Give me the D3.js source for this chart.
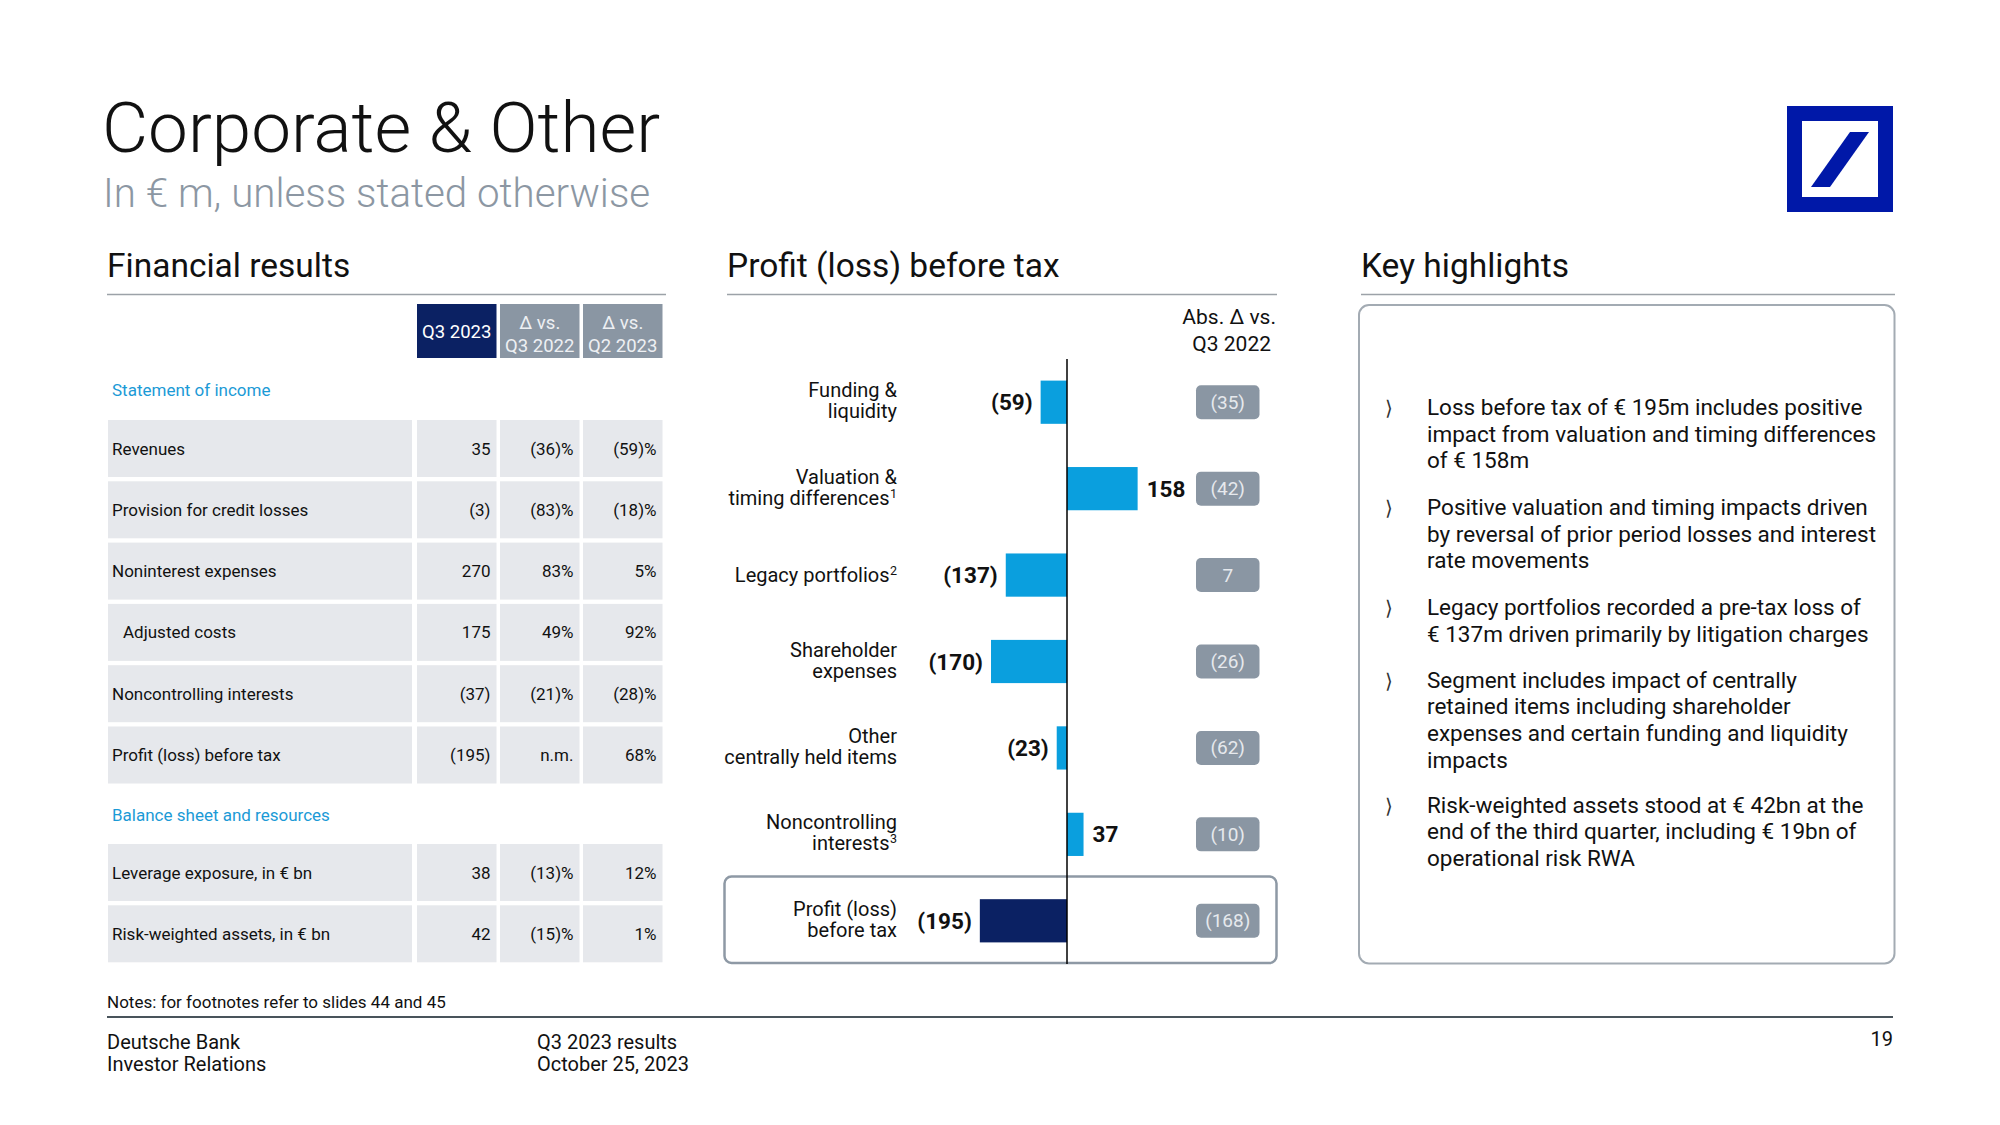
<!DOCTYPE html>
<html>
<head>
<meta charset="utf-8">
<script src="https://cdn.jsdelivr.net/npm/d3@7"></script>
<style>
  html, body { margin: 0; padding: 0; background: #ffffff; }
  svg { display: block; font-family: Roboto, "Noto Sans", sans-serif; }
</style>
</head>
<body>
<svg id="chart" width="2000" height="1125"></svg>
<script>
// ---------------- DATA ----------------
const tableHeaders = [["Q3 2023"], ["Δ vs.", "Q3 2022"], ["Δ vs.", "Q2 2023"]];
const incomeLabels = ["Revenues", "Provision for credit losses", "Noninterest expenses", "Adjusted costs", "Noncontrolling interests", "Profit (loss) before tax"];
const incomeQ3_2023 = ["35", "(3)", "270", "175", "(37)", "(195)"];
const incomeVsQ3_2022 = ["(36)%", "(83)%", "83%", "49%", "(21)%", "n.m."];
const incomeVsQ2_2023 = ["(59)%", "(18)%", "5%", "92%", "(28)%", "68%"];
const incomeIndent = [false, false, false, true, false, false];
const balanceLabels = ["Leverage exposure, in € bn", "Risk-weighted assets, in € bn"];
const balanceQ3_2023 = ["38", "42"];
const balanceVsQ3_2022 = ["(13)%", "(15)%"];
const balanceVsQ2_2023 = ["12%", "1%"];

const categories = ["Funding & liquidity", "Valuation & timing differences", "Legacy portfolios", "Shareholder expenses", "Other centrally held items", "Noncontrolling interests", "Profit (loss) before tax"];
const categoryLines = [["Funding &", "liquidity"], ["Valuation &", "timing differences"], ["Legacy portfolios"], ["Shareholder", "expenses"], ["Other", "centrally held items"], ["Noncontrolling", "interests"], ["Profit (loss)", "before tax"]];
const categoryFootnotes = ["", "1", "2", "", "", "3", ""];
const pbtValues = [-59, 158, -137, -170, -23, 37, -195];
const absDeltaLabels = ["(35)", "(42)", "7", "(26)", "(62)", "(10)", "(168)"];

const highlights = [
  ["Loss before tax of € 195m includes positive", "impact from valuation and timing differences", "of € 158m"],
  ["Positive valuation and timing impacts driven", "by reversal of prior period losses and interest", "rate movements"],
  ["Legacy portfolios recorded a pre-tax loss of", "€ 137m driven primarily by litigation charges"],
  ["Segment includes impact of centrally", "retained items including shareholder", "expenses and certain funding and liquidity", "impacts"],
  ["Risk-weighted assets stood at € 42bn at the", "end of the third quarter, including € 19bn of", "operational risk RWA"]
];

// ---------------- STYLE ----------------
const NAVY = "#0b2163";
const HEAD_GRAY = "#8a96a3";
const ROW_FILL = "#e6e8ec";
const LIGHT_BLUE_TXT = "#1b9ad6";
const BAR_BLUE = "#0a9fde";
const TEXT = "#111111";
const RULE = "#9ca2a8";

const svg = d3.select("#chart");

// ---------------- HEADER ----------------
svg.append("text").attr("x", 102).attr("y", 152)
  .attr("font-size", 71).attr("font-weight", 300).attr("fill", TEXT)
  .text("Corporate & Other");
svg.append("text").attr("x", 103).attr("y", 207)
  .attr("font-size", 40.3).attr("font-weight", 300).attr("fill", "#8c97a3")
  .text("In € m, unless stated otherwise");

// logo
const logo = svg.append("g").attr("transform", "translate(1787,106)");
logo.append("rect").attr("width", 106).attr("height", 106).attr("fill", "#0018a8");
logo.append("rect").attr("x", 15).attr("y", 15).attr("width", 76).attr("height", 76).attr("fill", "#ffffff");
logo.append("polygon").attr("points", "63,26 82,26 43,81 24,81").attr("fill", "#0018a8");

// section headings + rules
const sections = [
  {t: "Financial results", x: 107, x2: 666},
  {t: "Profit (loss) before tax", x: 727, x2: 1277},
  {t: "Key highlights", x: 1361, x2: 1895}
];
sections.forEach(s => {
  svg.append("text").attr("x", s.x).attr("y", 277).attr("font-size", 33.5)
    .attr("font-weight", 400).attr("fill", TEXT).text(s.t);
  svg.append("line").attr("x1", s.x).attr("x2", s.x2).attr("y1", 294.5).attr("y2", 294.5)
    .attr("stroke", RULE).attr("stroke-width", 1.5);
});

// ---------------- TABLE ----------------
const colX = [417, 500, 583];
const colW = 79.5;
const labelX0 = 108, labelX1 = 412;
const tbl = svg.append("g");

tableHeaders.forEach((h, i) => {
  tbl.append("rect").attr("x", colX[i]).attr("y", 304).attr("width", colW).attr("height", 54)
    .attr("fill", i === 0 ? NAVY : HEAD_GRAY);
  const t = tbl.append("text").attr("text-anchor", "middle").attr("font-size", 18.5)
    .attr("fill", i === 0 ? "#ffffff" : "#eef0f3");
  if (h.length === 1) {
    t.append("tspan").attr("x", colX[i] + colW / 2).attr("y", 338).text(h[0]);
  } else {
    t.append("tspan").attr("x", colX[i] + colW / 2).attr("y", 329).text(h[0]);
    t.append("tspan").attr("x", colX[i] + colW / 2).attr("y", 352).text(h[1]);
  }
});

function sectionLabel(txt, y) {
  tbl.append("text").attr("x", 112).attr("y", y).attr("font-size", 17)
    .attr("fill", LIGHT_BLUE_TXT).text(txt);
}
function drawRows(labels, c1, c2, c3, indent, yStart) {
  const rowH = 57, pitch = 61.3;
  labels.forEach((lab, i) => {
    const y = yStart + i * pitch;
    tbl.append("rect").attr("x", labelX0).attr("y", y).attr("width", labelX1 - labelX0).attr("height", rowH).attr("fill", ROW_FILL);
    colX.forEach(cx => tbl.append("rect").attr("x", cx).attr("y", y).attr("width", colW).attr("height", rowH).attr("fill", ROW_FILL));
    const ty = y + rowH / 2 + 6;
    tbl.append("text").attr("x", indent[i] ? 123 : 112).attr("y", ty).attr("font-size", 17).attr("fill", TEXT).text(lab);
    [c1[i], c2[i], c3[i]].forEach((v, j) => {
      tbl.append("text").attr("x", colX[j] + colW - 6).attr("y", ty).attr("text-anchor", "end")
        .attr("font-size", 17).attr("fill", TEXT).text(v);
    });
  });
}
sectionLabel("Statement of income", 396);
drawRows(incomeLabels, incomeQ3_2023, incomeVsQ3_2022, incomeVsQ2_2023, incomeIndent, 420);
sectionLabel("Balance sheet and resources", 821);
drawRows(balanceLabels, balanceQ3_2023, balanceVsQ3_2022, balanceVsQ2_2023, [false, false], 844);

// ---------------- BAR CHART ----------------
const x = d3.scaleLinear().domain([-200, 200]).range([1067 - 89.4, 1067 + 89.4]);
const y = d3.scaleBand().domain(categories).range([359, 964]).paddingInner(0.5).paddingOuter(0.25);
const chart = svg.append("g");

// highlighted box for total
chart.append("rect").attr("x", 724.5).attr("y", 876.5).attr("width", 552).attr("height", 86.5)
  .attr("rx", 7).attr("fill", "none").attr("stroke", "#8e99a5").attr("stroke-width", 2.5);

chart.selectAll("rect.bar").data(pbtValues).enter().append("rect").attr("class", "bar")
  .attr("x", d => x(Math.min(0, d)))
  .attr("width", d => Math.abs(x(d) - x(0)))
  .attr("y", (d, i) => y(categories[i]))
  .attr("height", y.bandwidth())
  .attr("fill", (d, i) => i === categories.length - 1 ? NAVY : BAR_BLUE);

// zero axis
chart.append("line").attr("x1", x(0)).attr("x2", x(0)).attr("y1", 359).attr("y2", 964)
  .attr("stroke", "#000").attr("stroke-width", 1.5);

// value labels
chart.selectAll("text.val").data(pbtValues).enter().append("text").attr("class", "val")
  .attr("x", d => d < 0 ? x(d) - 8 : x(d) + 9)
  .attr("y", (d, i) => y(categories[i]) + y.bandwidth() / 2 + 8)
  .attr("text-anchor", d => d < 0 ? "end" : "start")
  .attr("font-size", 22.5).attr("font-weight", 700).attr("fill", TEXT)
  .text(d => d < 0 ? "(" + Math.abs(d) + ")" : String(d));

// category labels
categories.forEach((c, i) => {
  const cy = y(c) + y.bandwidth() / 2;
  const lines = categoryLines[i];
  const hasFn = !!categoryFootnotes[i];
  const t = chart.append("text").attr("text-anchor", "end").attr("font-size", 20).attr("fill", TEXT);
  lines.forEach((ln, k) => {
    const baseY = lines.length === 1 ? cy + 7 : cy - 5 + k * 21;
    const isLast = k === lines.length - 1;
    t.append("tspan").attr("x", (isLast && hasFn) ? 897 - 7.5 : 897).attr("y", baseY).text(ln);
    if (isLast && hasFn) {
      chart.append("text").attr("x", 897).attr("y", baseY - 7).attr("text-anchor", "end")
        .attr("font-size", 12.5).attr("fill", TEXT).text(categoryFootnotes[i]);
    }
  });
});

// Abs delta header
chart.append("text").attr("x", 1276).attr("y", 324).attr("text-anchor", "end")
  .attr("font-size", 21).attr("fill", TEXT).text("Abs. Δ vs.");
chart.append("text").attr("x", 1271).attr("y", 351).attr("text-anchor", "end")
  .attr("font-size", 21).attr("fill", TEXT).text("Q3 2022");

// Abs delta pills
categories.forEach((c, i) => {
  const cy = y(c) + y.bandwidth() / 2;
  chart.append("rect").attr("x", 1196).attr("y", cy - 17).attr("width", 63.5).attr("height", 34)
    .attr("rx", 5).attr("fill", HEAD_GRAY);
  chart.append("text").attr("x", 1227.75).attr("y", cy + 6.5).attr("text-anchor", "middle")
    .attr("font-size", 19).attr("fill", "#e6e9ed").text(absDeltaLabels[i]);
});

// ---------------- KEY HIGHLIGHTS ----------------
svg.append("rect").attr("x", 1359).attr("y", 305).attr("width", 535.5).attr("height", 658.5)
  .attr("rx", 10).attr("fill", "none").attr("stroke", "#a3abb3").attr("stroke-width", 2);
const paraStarts = [415, 515, 615, 687.5, 812.5];
const lineH = 26.7;
highlights.forEach((p, i) => {
  svg.append("text").attr("x", 1385).attr("y", paraStarts[i]).attr("font-size", 20)
    .attr("font-weight", 300).attr("fill", "#333").attr("font-family", "DejaVu Sans").text("⟩");
  const t = svg.append("text").attr("font-size", 22.5).attr("fill", TEXT);
  p.forEach((ln, k) => t.append("tspan").attr("x", 1427).attr("y", paraStarts[i] + k * lineH).text(ln));
});

// ---------------- FOOTER ----------------
svg.append("text").attr("x", 107).attr("y", 1008).attr("font-size", 17).attr("fill", TEXT)
  .text("Notes: for footnotes refer to slides 44 and 45");
svg.append("line").attr("x1", 107).attr("x2", 1893).attr("y1", 1017).attr("y2", 1017)
  .attr("stroke", "#0d1b24").attr("stroke-width", 1.5);
const foot = [
  {x: 107, lines: ["Deutsche Bank", "Investor Relations"]},
  {x: 537, lines: ["Q3 2023 results", "October 25, 2023"]}
];
foot.forEach(f => f.lines.forEach((ln, k) => {
  svg.append("text").attr("x", f.x).attr("y", 1049 + k * 22).attr("font-size", 20).attr("fill", TEXT).text(ln);
}));
svg.append("text").attr("x", 1893).attr("y", 1046).attr("text-anchor", "end").attr("font-size", 20)
  .attr("fill", TEXT).text("19");
</script>
</body>
</html>
